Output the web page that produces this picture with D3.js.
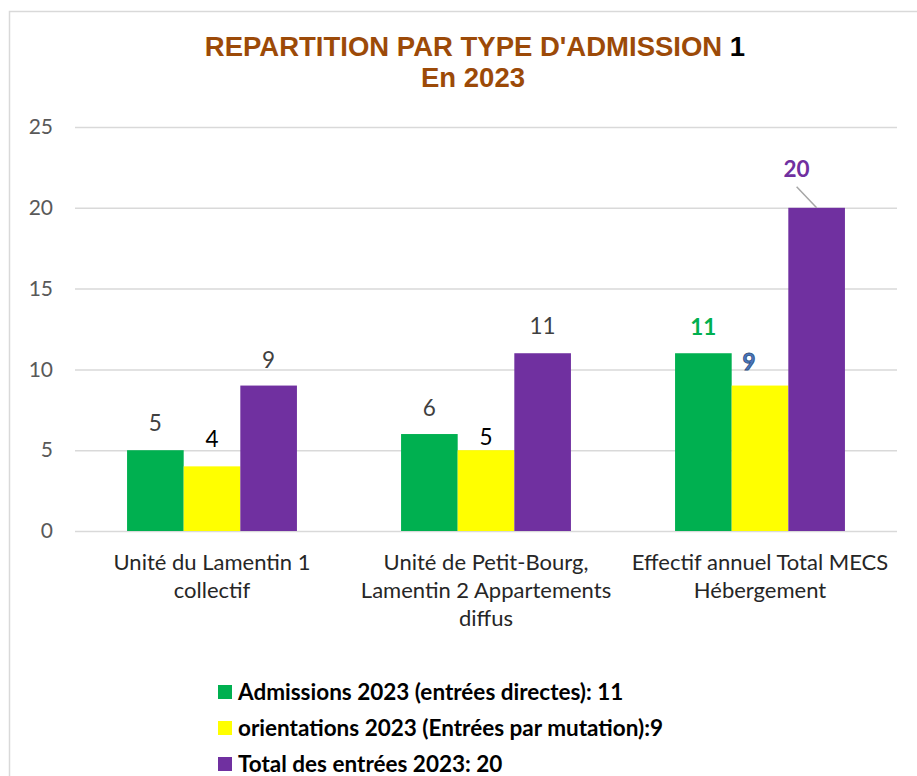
<!DOCTYPE html>
<html><head><meta charset="utf-8">
<script src="https://cdn.jsdelivr.net/npm/d3@7"></script>
<style>body{margin:0;background:#fff}svg{display:block}</style>
</head><body>
<svg id="c" width="917" height="776"></svg>
<script>
const categories = [
  ["Unité du Lamentin 1", "collectif"],
  ["Unité de Petit-Bourg,", "Lamentin 2 Appartements", "diffus"],
  ["Effectif annuel Total MECS", "Hébergement"]
];
const seriesNames = [
  "Admissions 2023 (entrées directes): 11",
  "orientations 2023 (Entrées par mutation):9",
  "Total des entrées 2023: 20"
];
const admissions = [5, 6, 11];
const orientations = [4, 5, 9];
const totals = [9, 11, 20];
const yTicks = [0, 5, 10, 15, 20, 25];
const colors = ["#00b050", "#ffff00", "#7030a0"];

(function () {
const series = [admissions, orientations, totals];
const svg = d3.select("#c");
const font = "Lato, 'Open Sans', sans-serif";

// chart border
svg.append("rect").attr("x", 9.5).attr("y", 11.5).attr("width", 930).attr("height", 800)
  .attr("fill", "none").attr("stroke", "#d9d9d9").attr("stroke-width", 1.5);

const pl = 75, pr = 897, pt = 127, pb = 531;
const y = d3.scaleLinear().domain([0, 25]).range([pb, pt]);
const x0 = d3.scaleBand().domain(d3.range(categories.length)).range([pl, pr])
  .paddingInner(0.38).paddingOuter(0.19);
const x1 = d3.scaleBand().domain(d3.range(series.length)).range([0, x0.bandwidth()]);

// grid
const yAxis = d3.axisLeft(y).tickValues(yTicks).tickSize(-(pr - pl)).tickPadding(22);
const ga = svg.append("g").attr("transform", `translate(${pl},0)`).call(yAxis);
ga.select(".domain").remove();
ga.selectAll(".tick line").attr("stroke", "#d9d9d9").attr("stroke-width", 1.5);
ga.selectAll(".tick text").attr("fill", "#595959").attr("font-family", font).attr("font-size", 21);

// bars
series.forEach((vals, si) => {
  svg.append("g").selectAll("rect").data(vals).join("rect")
    .attr("x", (d, i) => x0(i) + x1(si))
    .attr("y", d => y(d))
    .attr("width", x1.bandwidth())
    .attr("height", d => y(0) - y(d))
    .attr("fill", colors[si]);
});

// value labels: [color, weight, offset above bar, x shift]
const labelStyle = [
  [["#404040", "normal", 19, 0], ["#404040", "normal", 18, 0], ["#00b050", "bold", 18, 0]],
  [["#000000", "normal", 19, 0], ["#000000", "normal", 5, 0], ["#4a78c0", "bold", 16, -11]],
  [["#404040", "normal", 18, 0], ["#404040", "normal", 19, 0], ["#7030a0", "bold", 31, -20]]
];
series.forEach((vals, si) => {
  vals.forEach((d, i) => {
    const st = labelStyle[si][i];
    const cx = x0(i) + x1(si) + x1.bandwidth() / 2 + st[3];
    const t = svg.append("text")
      .attr("x", cx).attr("y", y(d) - st[2])
      .attr("text-anchor", "middle")
      .attr("font-family", font).attr("font-size", 22.5)
      .attr("font-weight", st[1]).attr("fill", st[0])
      .text(d);
    if (si === 1 && i === 2) t.attr("stroke", "#2f4f7f").attr("stroke-width", 0.8);
  });
});
{
  const i = 2, si = 2, d = totals[2];
  const bx = x0(i) + x1(si) + x1.bandwidth() / 2;
  svg.append("line").attr("x1", bx - 20).attr("y1", y(d) - 21)
    .attr("x2", bx).attr("y2", y(d)).attr("stroke", "#a6a6a6").attr("stroke-width", 1.5);
}

// category labels
categories.forEach((lines, i) => {
  const cx = x0(i) + x0.bandwidth() / 2;
  const t = svg.append("text").attr("text-anchor", "middle")
    .attr("font-family", font).attr("font-size", 22).attr("fill", "#262626");
  lines.forEach((l, k) => {
    t.append("tspan").attr("x", cx).attr("y", 570 + k * 28).text(l);
  });
});

// title
const title = svg.append("text").attr("x", 475).attr("y", 56).attr("text-anchor", "middle")
  .attr("font-family", "'Liberation Sans', Arial, sans-serif").attr("font-size", 27.5).attr("font-weight", "bold");
title.append("tspan").attr("fill", "#9c4a08").text("REPARTITION PAR TYPE D'ADMISSION ");
title.append("tspan").attr("fill", "#000").text("1");
svg.append("text").attr("x", 473).attr("y", 87).attr("text-anchor", "middle")
  .attr("font-family", "'Liberation Sans', Arial, sans-serif").attr("font-size", 27.5).attr("font-weight", "bold")
  .attr("fill", "#9c4a08").text("En 2023");

// legend
const legendY = [692, 728, 764];
seriesNames.forEach((n, i) => {
  svg.append("rect").attr("x", 218).attr("y", legendY[i] - 7).attr("width", 14).attr("height", 14).attr("fill", colors[i]);
  svg.append("text").attr("x", 238).attr("y", legendY[i] + 7.5)
    .attr("font-family", font).attr("font-size", 22.5).attr("font-weight", "bold").attr("fill", "#000")
    .text(n);
});
})();
</script>
</body></html>
